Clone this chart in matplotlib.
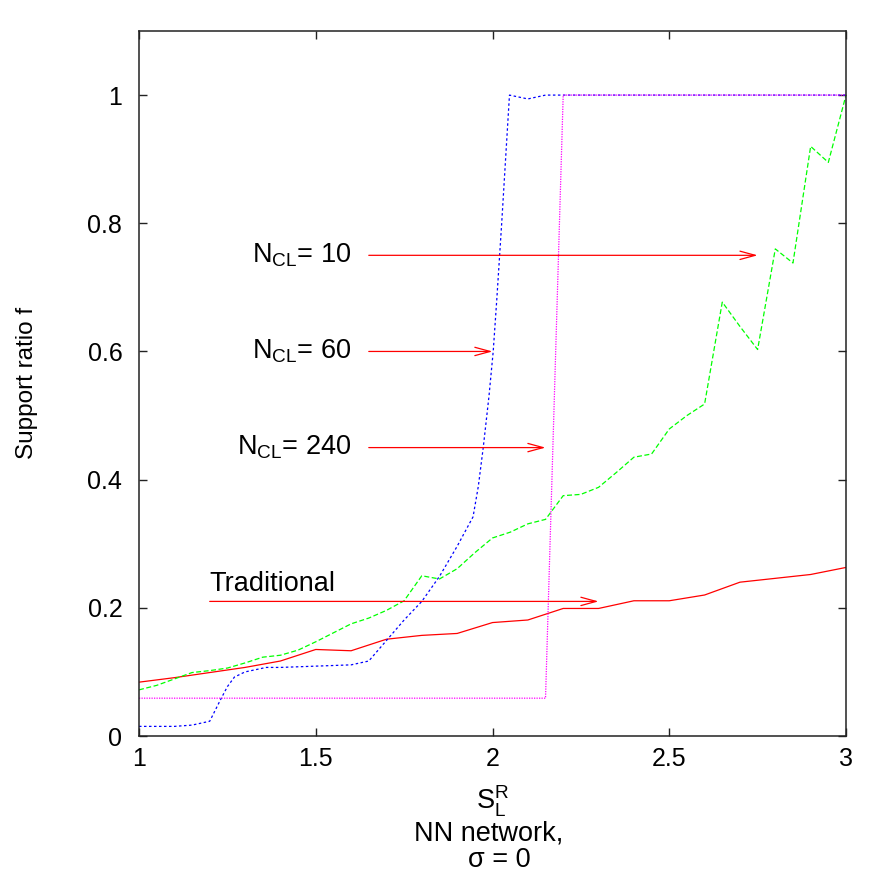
import matplotlib
matplotlib.use("Agg")
import matplotlib.pyplot as plt
import matplotlib.transforms as mtransforms

plt.rcParams['font.family'] = ['Liberation Sans', 'DejaVu Sans']
plt.rcParams['mathtext.fontset'] = 'custom'
plt.rcParams['mathtext.rm'] = 'Liberation Sans'
plt.rcParams['mathtext.it'] = 'Liberation Sans'

# traditional scheme, sampled every 0.1
trad_x = [1.0, 1.1, 1.2, 1.3, 1.4, 1.5, 1.6, 1.7, 1.8, 1.9, 2.0,
          2.1, 2.2, 2.3, 2.4, 2.5, 2.6, 2.7, 2.8, 2.9, 3.0]
trad_y = [0.084, 0.091, 0.099, 0.107, 0.117, 0.135, 0.133, 0.151, 0.157, 0.160, 0.177,
          0.181, 0.199, 0.199, 0.211, 0.211, 0.220, 0.240, 0.246, 0.252, 0.263]

# N_CL = 10, sampled every 0.05
n10_x = [1.00, 1.05, 1.10, 1.15, 1.20, 1.25, 1.30, 1.35, 1.40, 1.45, 1.50,
         1.55, 1.60, 1.65, 1.70, 1.75, 1.80, 1.85, 1.90, 1.95, 2.00,
         2.05, 2.10, 2.15, 2.20, 2.25, 2.30, 2.35, 2.40, 2.45, 2.50,
         2.55, 2.60, 2.65, 2.70, 2.75, 2.80, 2.85, 2.90, 2.95, 3.00]
n10_y = [0.072, 0.079, 0.089, 0.099, 0.102, 0.106, 0.114, 0.123, 0.126, 0.134, 0.147,
         0.161, 0.175, 0.184, 0.196, 0.211, 0.250, 0.245, 0.261, 0.286, 0.309,
         0.318, 0.331, 0.338, 0.375, 0.377, 0.388, 0.411, 0.435, 0.440, 0.479,
         0.500, 0.518, 0.677, 0.639, 0.603, 0.760, 0.738, 0.920, 0.895, 1.000]

# N_CL = 60
n60_x = [1.00, 1.05, 1.10, 1.15, 1.20, 1.23, 1.25, 1.27, 1.30, 1.36, 1.40,
         1.50, 1.60, 1.65, 1.70, 1.75, 1.80, 1.85, 1.90, 1.945, 1.96,
         1.974, 1.99, 2.002, 2.012, 2.026, 2.048, 2.10, 2.15, 2.20, 2.50, 3.00]
n60_y = [0.015, 0.015, 0.015, 0.017, 0.023, 0.056, 0.077, 0.092, 0.100, 0.107, 0.107,
         0.109, 0.111, 0.117, 0.149, 0.181, 0.210, 0.249, 0.296, 0.342, 0.390,
         0.451, 0.530, 0.600, 0.680, 0.800, 1.000, 0.994, 1.000, 1.000, 1.000, 1.000]

# N_CL = 240
n240_x = [1.0, 2.15, 2.2, 3.0]
n240_y = [0.059, 0.059, 1.0, 1.0]

# arrow labels
ncl_labels = [r'$\mathregular{N_{CL}}$= 10', r'$\mathregular{N_{CL}}$= 60', r'$\mathregular{N_{CL}}$= 240']
ncl_y = [0.75, 0.60, 0.45]
ncl_end = [2.75, 2.0, 2.15]
arrow_start = 1.65
label_right = 1.6

fs_tick = 18
fs_text = 19.5

fig = plt.figure(figsize=(8.92, 8.72), dpi=100)
ax = fig.add_axes([139 / 892, 1 - 736 / 872, 707 / 892, 705 / 872])

lw = 0.9
ax.plot(trad_x, trad_y, color='#ff0000', lw=lw)
ax.plot(n10_x, n10_y, color='#00ff00', lw=lw, dashes=(4, 2))
ax.plot(n60_x, n60_y, color='#0000ff', lw=lw, dashes=(2, 2))
ax.plot(n240_x, n240_y, color='#ff00ff', lw=lw, dashes=(1, 1))

arrow_kw = dict(arrowstyle='->,head_length=1.1,head_width=0.3', color='#ff0000',
                lw=0.9, shrinkA=0, shrinkB=0, mutation_scale=10)
shift = mtransforms.offset_copy(ax.transData, fig=fig, y=-5, units='points')

for lab, yv, xe in zip(ncl_labels, ncl_y, ncl_end):
    ax.annotate('', xy=(xe, yv), xytext=(arrow_start, yv), arrowprops=arrow_kw)
    ax.text(label_right, yv, lab, ha='right', va='baseline', fontsize=fs_text, transform=shift)

ax.annotate('', xy=(2.3, 0.21), xytext=(1.2, 0.21), arrowprops=arrow_kw)
ax.text(1.2, 0.227, 'Traditional', ha='left', va='baseline', fontsize=fs_text)

ax.set_xlim(1, 3)
ax.set_ylim(0, 1.1)
ax.set_xticks([1, 1.5, 2, 2.5, 3])
ax.set_xticklabels(['1', '1.5', '2', '2.5', '3'])
ax.set_yticks([0, 0.2, 0.4, 0.6, 0.8, 1])
ax.set_yticklabels(['0', '0.2', '0.4', '0.6', '0.8', '1'])
ax.tick_params(direction='in', length=5.5, width=1, top=True, right=True,
               labelsize=fs_tick, color='#222222')
ax.tick_params(axis='x', pad=8)
ax.tick_params(axis='y', pad=12)
for s in ax.spines.values():
    s.set_linewidth(1.1)
    s.set_color('#222222')

fig.text(27 / 892, 1 - 383 / 872, 'Support ratio f', rotation=90,
         ha='center', va='center', fontsize=17.5)
fig.text(492.5 / 892, 1 - 809 / 872, r'$\mathregular{S_L^R}$', ha='center',
         va='baseline', fontsize=fs_text)
fig.text(488.5 / 892, 1 - 840 / 872, 'NN network,', ha='center', va='baseline', fontsize=fs_text)
fig.text(499 / 892, 1 - 867 / 872, 'σ = 0', ha='center', va='baseline', fontsize=fs_text)

fig.savefig('out.png', dpi=100)
